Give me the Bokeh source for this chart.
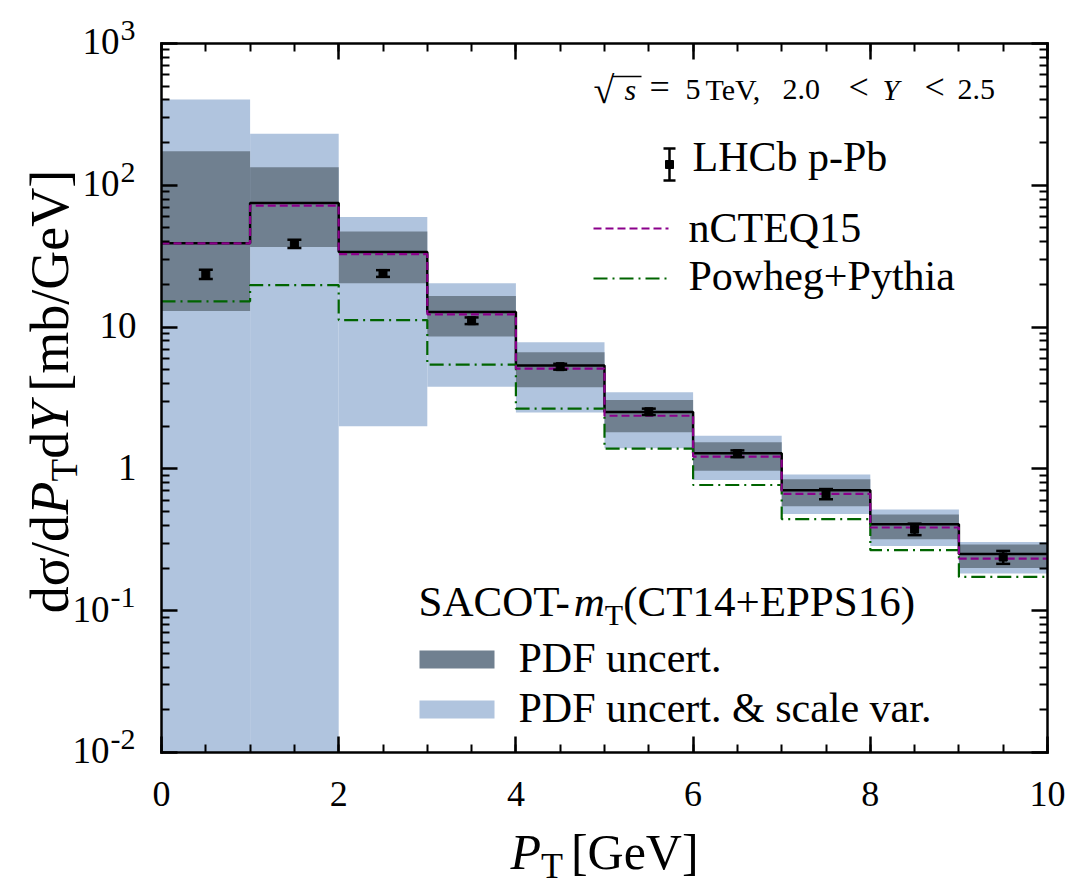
import math
from bokeh.plotting import figure
from bokeh.models import (Range1d, FixedTicker, LinearAxis, LogAxis, Label,
                          ColumnDataSource, Whisker, TeeHead, CustomJSTickFormatter)
from bokeh.embed import file_html
from bokeh.resources import INLINE

# ---------------------------------------------------------------- data
pt_edges = [0, 1, 2, 3, 4, 5, 6, 7, 8, 9, 10]

# SACOT-mT (CT14+EPPS16): PDF uncertainty combined with scale variation
band_scale_lo = [1e-3, 1e-3, 2.0, 3.8, 2.5, 1.40, 0.834, 0.48, 0.286, 0.183]
band_scale_hi = [403, 231, 59.7, 20.4, 7.82, 3.47, 1.71, 0.914, 0.518, 0.305]
# SACOT-mT (CT14+EPPS16): PDF uncertainty only
band_pdf_lo = [13.0, 36.7, 20.4, 8.57, 3.76, 1.81, 0.97, 0.546, 0.319, 0.200]
band_pdf_hi = [174, 134, 47.3, 16.6, 6.65, 3.06, 1.54, 0.847, 0.477, 0.293]
sacot_central = [39.0, 75.0, 33.8, 12.8, 5.35, 2.52, 1.29, 0.708, 0.407, 0.251]

ncteq15 = [39.0, 72.0, 32.7, 12.3, 5.09, 2.37, 1.22, 0.667, 0.386, 0.233]
powheg_pythia = [15.2, 19.8, 11.2, 5.44, 2.66, 1.39, 0.77, 0.443, 0.267, 0.173]

lhcb_pt = [0.5, 1.5, 2.5, 3.5, 4.5, 5.5, 6.5, 7.5, 8.5, 9.5]
lhcb_val = [23.6, 38.7, 23.9, 11.1, 5.26, 2.53, 1.28, 0.666, 0.376, 0.239]
lhcb_err = [1.8, 2.6, 1.3, 0.6, 0.25, 0.13, 0.07, 0.055, 0.035, 0.025]

x_ticks = [0, 2, 4, 6, 8, 10]
x_tick_labels = ["0", "2", "4", "6", "8", "10"]
y_ticks = [1e-2, 1e-1, 1, 10, 1e2, 1e3]
y_tick_base = ["10", "10", "1", "10", "10", "10"]
y_tick_exp = ["-2", "-1", "", "", "2", "3"]

# ---------------------------------------------------------------- layout
SERIF = "Liberation Serif"
W, H = 1068, 891
FL, FR, FT, FB = 161, 1047, 43, 752        # axes box edges in pixels
X0, X1 = 0.0, 10.0
LY0, LY1 = -2.0, 3.0
YMIN, YMAX = 10 ** LY0, 10 ** LY1

LIGHT = "#B0C4DE"
DARK = "#708090"
PURPLE = "#8B008B"
GREEN = "#006400"

BASELINE_FIX = 0.37   # em offset between Bokeh's alphabetic anchor and the glyph baseline


def sx(px):
    return X0 + (px - FL) / (FR - FL) * (X1 - X0)


def sy(py):
    return 10 ** (LY1 - (py - FT) / (FB - FT) * (LY1 - LY0))


def px_of(x):
    return FL + (x - X0) / (X1 - X0) * (FR - FL)


def py_of(v):
    return FT + (LY1 - math.log10(v)) / (LY1 - LY0) * (FB - FT)


ROMAN_W = {
    " ": 250, "(": 333, ")": 333, "+": 564, ",": 250, "-": 333, ".": 250,
    "/": 278, "<": 564, "=": 564, "&": 778, "[": 333, "]": 333,
    "A": 722, "C": 667, "D": 722, "E": 611, "F": 556, "G": 722, "H": 722,
    "L": 611, "O": 722, "P": 556, "Q": 722, "S": 556, "T": 611, "V": 722,
    "Y": 722, "a": 444, "b": 500, "c": 444, "d": 500, "e": 444, "g": 500,
    "h": 500, "i": 278, "l": 278, "m": 778, "n": 500, "o": 500, "p": 500,
    "r": 333, "s": 389, "t": 278, "u": 500, "v": 500, "w": 722, "y": 500,
    "\u03c3": 550, "\u221a": 549, "\u2212": 564,
}
ITALIC_W = {"P": 611, "Y": 556, "m": 722, "s": 389, "T": 556}


def tw(s, size, italic=False):
    table = ITALIC_W if italic else ROMAN_W
    return sum(table.get(c, ROMAN_W.get(c, 500)) for c in s) / 1000 * size


# The plotting frame spans the whole canvas; the axes are pinned to the
# box edges with fixed_location so every label can sit around them freely.
p = figure(width=W, height=H, x_range=Range1d(sx(0), sx(W)),
           y_range=Range1d(sy(H), sy(0)), y_axis_type="log",
           output_backend="svg", toolbar_location=None, min_border=0)
p.xgrid.visible = False
p.ygrid.visible = False
p.outline_line_color = None
p.background_fill_color = "white"
p.border_fill_color = "white"


def txt(s, px, py, size, italic=False, align="left", rotated=False):
    """Place text with its baseline at (px, py) in canvas pixels."""
    if rotated:
        px -= BASELINE_FIX * size
    else:
        py -= BASELINE_FIX * size
    p.add_layout(Label(x=sx(px), y=sy(py), text=s, text_font=SERIF,
                       text_font_size=f"{size}px",
                       text_font_style="italic" if italic else "normal",
                       text_align=align, text_baseline="alphabetic",
                       angle=math.pi / 2 if rotated else 0.0,
                       text_color="black"))


# ---------------------------------------------------------------- bands
p.quad(left=pt_edges[:-1], right=pt_edges[1:],
       bottom=[max(v, YMIN) for v in band_scale_lo],
       top=[min(v, YMAX) for v in band_scale_hi],
       fill_color=LIGHT, line_color=None)
p.quad(left=pt_edges[:-1], right=pt_edges[1:],
       bottom=[max(v, YMIN) for v in band_pdf_lo],
       top=[min(v, YMAX) for v in band_pdf_hi],
       fill_color=DARK, line_color=None)


def stepped(vals):
    return pt_edges, list(vals) + [vals[-1]]


POWHEG_DASH = "14 5 2 5"
NCTEQ_DASH = "8 4"

xs, ys = stepped(sacot_central)
p.step(xs, ys, mode="after", line_color="black", line_width=2.5)
xs, ys = stepped(powheg_pythia)
p.step(xs, ys, mode="after", line_color=GREEN, line_width=2.2,
       line_dash=POWHEG_DASH)
xs, ys = stepped(ncteq15)
p.step(xs, ys, mode="after", line_color=PURPLE, line_width=2.2,
       line_dash=NCTEQ_DASH)

# ---------------------------------------------------------------- LHCb data
src = ColumnDataSource(dict(
    x=lhcb_pt, y=lhcb_val,
    lo=[v - e for v, e in zip(lhcb_val, lhcb_err)],
    hi=[v + e for v, e in zip(lhcb_val, lhcb_err)]))
p.add_layout(Whisker(source=src, base="x", lower="lo", upper="hi",
                     dimension="height", line_color="black", line_width=2.5,
                     level="overlay",
                     upper_head=TeeHead(size=14, line_width=2.5, line_color="black"),
                     lower_head=TeeHead(size=14, line_width=2.5, line_color="black")))
p.scatter("x", "y", source=src, marker="square", size=8, color="black")

# ---------------------------------------------------------------- axes
x_minor = [0.5 * k for k in range(21)]
y_minor = [m * 10 ** e for e in range(-2, 3) for m in range(2, 10)]


def style_axis(ax):
    ax.axis_line_width = 2.5
    ax.axis_line_color = "black"
    ax.axis_line_cap = "square"
    ax.major_tick_in = 16
    ax.major_tick_out = 0
    ax.minor_tick_in = 8
    ax.minor_tick_out = 0
    ax.major_tick_line_width = 2.5
    ax.minor_tick_line_width = 2
    ax.major_tick_line_color = "black"
    ax.minor_tick_line_color = "black"
    ax.formatter = CustomJSTickFormatter(code="return ''")
    ax.major_label_text_font_size = "0px"
    ax.major_label_standoff = 0
    ax.axis_label = None


bottom = p.xaxis[0]
bottom.ticker = FixedTicker(ticks=x_ticks, minor_ticks=x_minor)
bottom.fixed_location = YMIN
bottom.bounds = (X0, X1)
style_axis(bottom)

left = p.yaxis[0]
left.ticker = FixedTicker(ticks=y_ticks, minor_ticks=y_minor)
left.fixed_location = X0
left.bounds = (YMIN, YMAX)
style_axis(left)

top = LinearAxis(ticker=FixedTicker(ticks=x_ticks, minor_ticks=x_minor),
                 fixed_location=YMAX, bounds=(X0, X1))
style_axis(top)
p.add_layout(top, "above")

right = LogAxis(ticker=FixedTicker(ticks=y_ticks, minor_ticks=y_minor),
                fixed_location=X1, bounds=(YMIN, YMAX))
style_axis(right)
p.add_layout(right, "right")

# tick labels
for xv, lab in zip(x_ticks, x_tick_labels):
    txt(lab, px_of(xv), 807, 36, align="center")

TICK_R = 136
EXP = 30
for v, base, ex in zip(y_ticks, y_tick_base, y_tick_exp):
    ty = py_of(v)
    if ex:
        ew = tw(ex, EXP) + 2
        txt(base, TICK_R - ew, ty + 12, 37, align="right")
        txt(ex, TICK_R - ew + 1, ty - 2, EXP)
    else:
        txt(base, TICK_R, ty + 12, 37, align="right")

# x axis title: P_T [GeV]
AX = 50
cx = (FL + FR) / 2
gap = 8
parts = [("P", AX, True, 0, 0), ("T", 36, False, 9, gap), ("[GeV]", AX, False, 0, 0)]
total = sum(tw(s, sz, it) + g for s, sz, it, _, g in parts)
x = cx - total / 2
for s, sz, it, dy, g in parts:
    txt(s, x, 870 + dy, sz, italic=it)
    x += tw(s, sz, it) + g

# y axis title: dσ/dP_T dY [mb/GeV] (rotated, reading upwards)
AY = 54
parts = [("d\u03c3/d", AY, False, 0, 0), ("P", AY, True, 0, 0),
         ("T", 37, False, 9, 0), ("d", AY, False, 0, 0),
         ("Y", AY, True, 0, 10), ("[mb/GeV]", AY, False, 0, 0)]
total = sum(tw(s, sz, it) + g for s, sz, it, _, g in parts)
cy = 391
y = cy + total / 2
for s, sz, it, dx, g in parts:
    txt(s, 69 + dx, y, sz, italic=it, rotated=True)
    y -= tw(s, sz, it) + g

# ---------------------------------------------------------------- annotation
ANN = 30
REL = 36
ANN_Y = 100
txt("\u221a", 593, 104, 38)
txt("s", 624, ANN_Y, ANN, italic=True)
p.segment(x0=[sx(612)], y0=[sy(76)], x1=[sx(641)], y1=[sy(76)],
          line_color="black", line_width=1.5)
for s, px, sz, it in [("=", 649, REL, False), ("5", 685, ANN, False),
                      ("TeV,", 705, ANN, False), ("2.0", 782, ANN, False),
                      ("<", 848, REL, False), ("Y", 882, ANN, True),
                      ("<", 924, REL, False), ("2.5", 957, ANN, False)]:
    txt(s, px, ANN_Y, sz, italic=it)

# ---------------------------------------------------------------- legend (top)
LEG = 42
LX0, LX1 = 593, 668
mk_x, mk_y = 669, 164
p.segment(x0=[sx(mk_x)], y0=[sy(mk_y + 16)], x1=[sx(mk_x)], y1=[sy(mk_y - 16)],
          line_color="black", line_width=2.5)
p.segment(x0=[sx(mk_x - 6), sx(mk_x - 6)], y0=[sy(mk_y + 16), sy(mk_y - 16)],
          x1=[sx(mk_x + 6), sx(mk_x + 6)], y1=[sy(mk_y + 16), sy(mk_y - 16)],
          line_color="black", line_width=2.5)
p.scatter([sx(mk_x)], [sy(mk_y)], marker="square", size=8, color="black")
txt("LHCb p-Pb", 692, 172, LEG)
p.line([sx(LX0), sx(LX1)], [sy(228), sy(228)], line_color=PURPLE,
       line_width=2.2, line_dash=NCTEQ_DASH)
txt("nCTEQ15", 688, 243, LEG)
p.line([sx(LX0), sx(LX1)], [sy(278), sy(278)], line_color=GREEN,
       line_width=2.2, line_dash=POWHEG_DASH)
txt("Powheg+Pythia", 688, 291, LEG)

# ---------------------------------------------------------------- legend (bottom)
x = 418
for s, sz, it, dy in [("SACOT-", 43, False, 0), ("m", 43, True, 0),
                      ("T", 30, False, 8), ("(CT14+EPPS16)", 43, False, 0)]:
    txt(s, x, 617 + dy, sz, italic=it)
    x += tw(s, sz, it)

SW0, SW1 = 419, 494
p.quad(left=[sx(SW0)], right=[sx(SW1)], bottom=[sy(668)], top=[sy(650)],
       fill_color=DARK, line_color=None)
txt("PDF uncert.", 518, 673, LEG)
p.quad(left=[sx(SW0)], right=[sx(SW1)], bottom=[sy(718)], top=[sy(700)],
       fill_color=LIGHT, line_color=None)
txt("PDF uncert. & scale var.", 518, 723, LEG)

open("out.html", "w").write(file_html(p, INLINE))
